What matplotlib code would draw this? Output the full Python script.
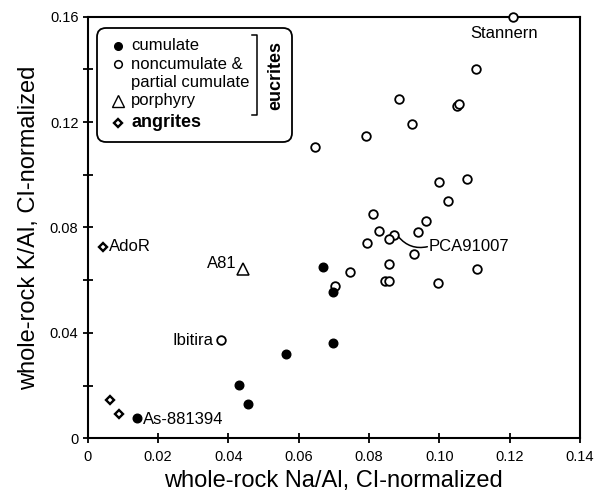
import matplotlib
matplotlib.use("Agg")
import matplotlib.pyplot as plt
from matplotlib.patches import FancyBboxPatch
from matplotlib.transforms import Affine2D

plt.rcParams['font.family'] = ['Liberation Sans', 'DejaVu Sans']

# ---- data (Na/Al, K/Al CI-normalized) ----
cumulate_x = [0.0670, 0.0697, 0.0699, 0.0563, 0.0431, 0.0457, 0.0142]
cumulate_y = [0.0651, 0.0556, 0.0361, 0.0320, 0.0202, 0.0130, 0.0076]

noncum_x = [0.1209, 0.1104, 0.0885, 0.1049, 0.1056, 0.0922, 0.0792, 0.0648,
            0.0999, 0.1080, 0.1024, 0.0811, 0.0961, 0.0829, 0.0871, 0.0858,
            0.0939, 0.0794, 0.0746, 0.0704, 0.0857, 0.0846, 0.0858, 0.0929,
            0.0997, 0.1106, 0.0379]
noncum_y = [0.1600, 0.1401, 0.1287, 0.1261, 0.1268, 0.1193, 0.1147, 0.1107,
            0.0974, 0.0984, 0.0902, 0.0850, 0.0825, 0.0787, 0.0772, 0.0755,
            0.0782, 0.0740, 0.0632, 0.0578, 0.0660, 0.0598, 0.0598, 0.0698,
            0.0588, 0.0641, 0.0373]

porphyry_x = [0.0443]
porphyry_y = [0.0641]

angrite_x = [0.0045, 0.0064, 0.0090]
angrite_y = [0.0727, 0.0145, 0.0092]

x_ticks = [0, 0.02, 0.04, 0.06, 0.08, 0.10, 0.12, 0.14]
x_ticklabels = ["0", "0.02", "0.04", "0.06", "0.08", "0.10", "0.12", "0.14"]
y_ticks = [0, 0.02, 0.04, 0.06, 0.08, 0.10, 0.12, 0.14, 0.16]
y_ticklabels = ["0", "", "0.04", "", "0.08", "", "0.12", "", "0.16"]

fig = plt.figure(figsize=(5.95, 4.98), dpi=100)
ax = fig.add_axes([87.5/595, 1-438.3/498, (580-87.5)/595, (438.3-16.7)/498])
ax.set_xlim(0, 0.14)
ax.set_ylim(0, 0.16)

ms = 6.2
ax.plot(noncum_x, noncum_y, 'o', ms=ms, mfc='white', mec='black', mew=1.3, ls='none', zorder=3, clip_on=False)
ax.plot(cumulate_x, cumulate_y, 'o', ms=ms, mfc='black', mec='black', mew=1.0, ls='none', zorder=3)
ax.plot(porphyry_x, porphyry_y, '^', ms=9, mfc='white', mec='black', mew=1.1, ls='none', zorder=3)
ax.plot(angrite_x, angrite_y, 'D', ms=4, mfc='white', mec='black', mew=1.7, ls='none', zorder=3)

ax.set_xticks(x_ticks)
ax.set_xticklabels(x_ticklabels)
ax.set_yticks(y_ticks)
ax.set_yticklabels(y_ticklabels)
ax.tick_params(direction='inout', length=7, width=1.3, labelsize=10.5)
ax.tick_params(axis='x', pad=5)
ax.tick_params(axis='y', pad=3)
for s in ax.spines.values():
    s.set_linewidth(1.5)

ax.set_xlabel("whole-rock Na/Al, CI-normalized", fontsize=17, labelpad=4)
ax.set_ylabel("whole-rock K/Al, CI-normalized", fontsize=17, labelpad=7)

fs = 12
# sample labels
ax.text(0.1185, 0.1538, "Stannern", fontsize=fs, ha='center', va='center')
ax.text(0.0060, 0.0727, "AdoR", fontsize=fs, ha='left', va='center')
ax.text(0.0423, 0.0665, "A81", fontsize=fs, ha='right', va='center')
ax.text(0.0359, 0.0373, "Ibitira", fontsize=fs, ha='right', va='center')
ax.text(0.0157, 0.0073, "As-881394", fontsize=fs, ha='left', va='center')
ax.text(0.0970, 0.0727, "PCA91007", fontsize=fs, ha='left', va='center')
ax.annotate("", xy=(0.0966, 0.0727), xytext=(0.0884, 0.0765),
            arrowprops=dict(arrowstyle='-', lw=1.1, color='black',
                            connectionstyle='arc3,rad=0.3', shrinkA=0, shrinkB=0))

# ---- legend drawn in pixel coordinates (origin top-left) ----
T = Affine2D().scale(1, -1).translate(0, 498).scale(1/595, 1/498) + fig.transFigure
box = FancyBboxPatch((97, 28), 195, 114, boxstyle="round,pad=0,rounding_size=9",
                     transform=T, fc='white', ec='black', lw=1.3, zorder=5)
fig.add_artist(box)

def lmark(x, y, m, **kw):
    fig.add_artist(plt.Line2D([x], [y], marker=m, ls='none', transform=T, zorder=6, **kw))

lmark(118, 46, 'o', ms=5.5, mfc='black', mec='black')
lmark(118, 64, 'o', ms=5.5, mfc='white', mec='black', mew=1.1)
lmark(118, 101, '^', ms=8.5, mfc='white', mec='black', mew=1.0)
lmark(118, 123, 'D', ms=4, mfc='white', mec='black', mew=1.7)

tx = 131
fig.text(tx, 45, "cumulate", transform=T, fontsize=fs, va='center', ha='left', zorder=6)
fig.text(tx, 64, "noncumulate &", transform=T, fontsize=fs, va='center', ha='left', zorder=6)
fig.text(tx, 82, "partial cumulate", transform=T, fontsize=fs, va='center', ha='left', zorder=6)
fig.text(tx, 100, "porphyry", transform=T, fontsize=fs, va='center', ha='left', zorder=6)
fig.text(tx, 122, "angrites", transform=T, fontsize=13, fontweight='bold', va='center', ha='left', zorder=6)

fig.add_artist(plt.Line2D([252, 257, 257, 252], [35, 35, 115, 115], color='black', lw=1.1,
                          transform=T, zorder=6))
fig.text(276, 75, "eucrites", transform=T, fontsize=13, fontweight='bold', rotation=90,
         va='center', ha='center', zorder=6)

fig.savefig("out.png", dpi=100)
